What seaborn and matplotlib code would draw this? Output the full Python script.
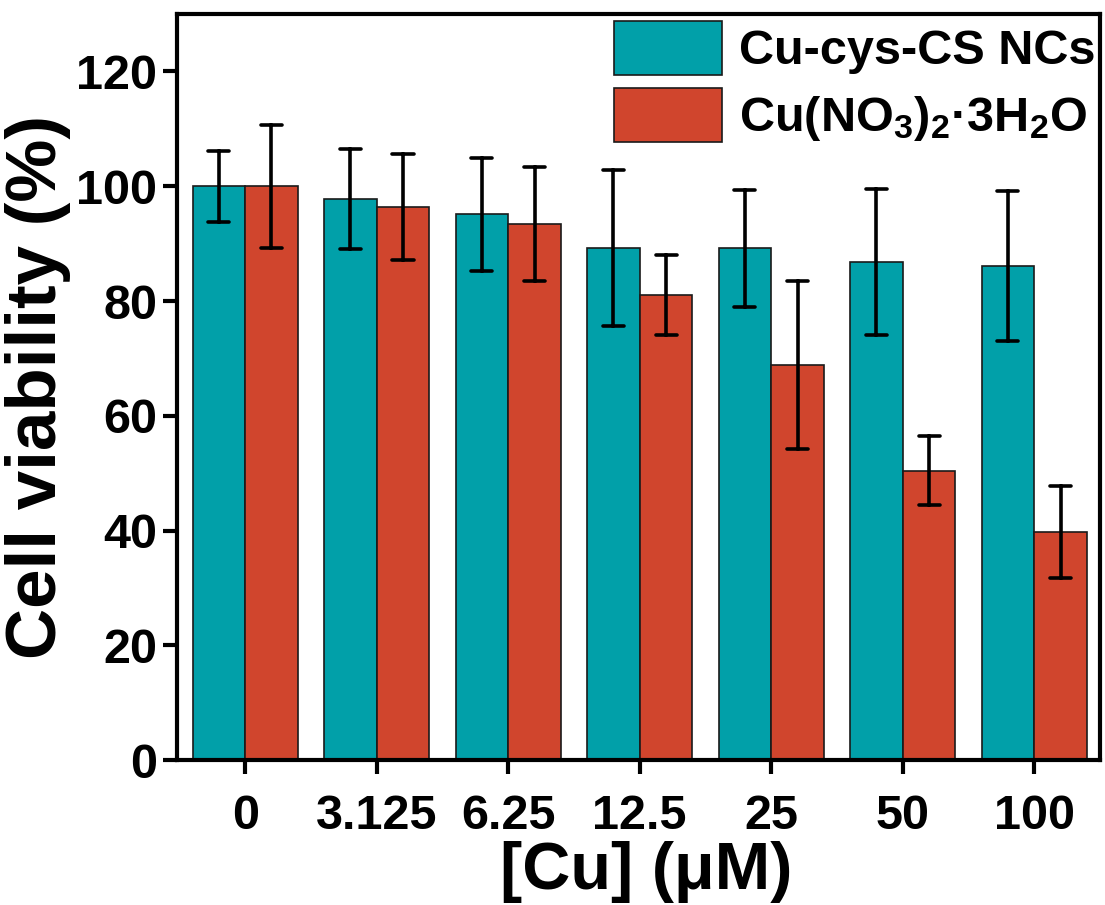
import numpy as np
import pandas as pd
import matplotlib
matplotlib.use("Agg")
import matplotlib.pyplot as plt
import seaborn as sns

concentrations = ["0", "3.125", "6.25", "12.5", "25", "50", "100"]
series_names = ["Cu-cys-CS NCs", r"Cu(NO$_3$)$_2$·3H$_2$O"]
nc_mean = [100.0, 97.8, 95.1, 89.3, 89.2, 86.8, 86.1]
nc_sd = [6.2, 8.7, 9.9, 13.6, 10.2, 12.7, 13.1]
salt_mean = [100.0, 96.4, 93.4, 81.0, 68.9, 50.4, 39.7]
salt_sd = [10.7, 9.3, 9.9, 7.0, 14.6, 6.0, 8.0]
colors = ["#01A0A9", "#D0452D"]

sns.set_theme(style="ticks")
plt.rcParams["font.family"] = ["Liberation Sans", "DejaVu Sans"]
plt.rcParams["font.weight"] = "bold"
plt.rcParams["text.color"] = "black"
plt.rcParams["axes.labelcolor"] = "black"
plt.rcParams["xtick.color"] = "black"
plt.rcParams["ytick.color"] = "black"
plt.rcParams["mathtext.fontset"] = "custom"
plt.rcParams["mathtext.rm"] = "Liberation Sans:bold"
plt.rcParams["mathtext.bf"] = "Liberation Sans:bold"
plt.rcParams["mathtext.it"] = "Liberation Sans:bold"
plt.rcParams["mathtext.default"] = "rm"

rows = []
for name, means, sds in [(series_names[0], nc_mean, nc_sd), (series_names[1], salt_mean, salt_sd)]:
    for c, m, s in zip(concentrations, means, sds):
        # two samples per bar: mean-sd and mean+sd -> mean is preserved, range = error bar
        rows.append({"conc": c, "series": name, "value": m - s})
        rows.append({"conc": c, "series": name, "value": m + s})
df = pd.DataFrame(rows)

fig = plt.figure(figsize=(11.05, 9.05), dpi=100)
ax = fig.add_axes([0.160, 0.160, 0.8355, 0.8245])

sns.barplot(
    data=df, x="conc", y="value", hue="series", order=concentrations,
    hue_order=series_names, palette=colors, width=0.8, ax=ax,
    estimator="mean", errorbar=lambda v: (v.min(), v.max()),
    capsize=0.32, edgecolor="#1a1a1a", linewidth=1.2, saturation=1,
    err_kws={"color": "black", "linewidth": 2.6},
)

ax.set_ylim(0, 130)
ax.set_xlim(-0.52, 6.5)
ax.set_yticks([0, 20, 40, 60, 80, 100, 120])
ax.set_xlabel("[Cu] (μM)", fontsize=48, fontweight="bold", labelpad=3)
ax.xaxis.set_label_coords(0.508, -0.108)
ax.set_ylabel("Cell viability (%)", fontsize=51, fontweight="bold", labelpad=4)
ax.tick_params(axis="both", direction="out", length=10, width=3, labelsize=35, pad=4)
ax.tick_params(axis="x", pad=14)
for lbl in ax.get_xticklabels() + ax.get_yticklabels():
    lbl.set_fontweight("bold")
for sp in ax.spines.values():
    sp.set_linewidth(3)
    sp.set_color("black")
    sp.set_visible(True)

handles, labels = ax.get_legend_handles_labels()
for h in handles:
    h.set_edgecolor("#1a1a1a")
    h.set_linewidth(1.2)
leg = ax.legend(handles, labels, loc="upper right", bbox_to_anchor=(1.0, 0.997),
                frameon=False, handlelength=2.22, handleheight=1.33,
                handletextpad=0.35, labelspacing=0.27, borderaxespad=0.05, borderpad=0.05,
                prop={"weight": "bold", "size": 35})

fig.savefig("out.png", dpi=100, facecolor="white")
